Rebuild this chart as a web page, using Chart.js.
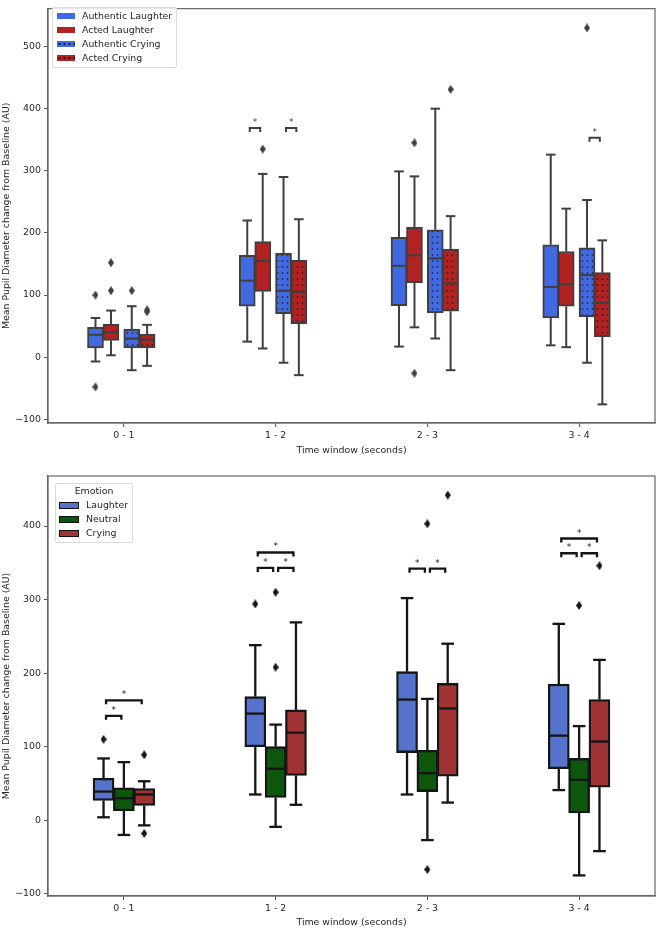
<!DOCTYPE html>
<html>
<head>
<meta charset="utf-8">
<script src="https://cdn.jsdelivr.net/npm/chart.js@4.4.1/dist/chart.umd.min.js"></script>
<style>
body { margin: 0; background: #fff; font-family: "DejaVu Sans", sans-serif; }
#wrap { position: relative; width: 660px; height: 930px; }
canvas { position: absolute; left: 0; }
.legend { position: absolute; background: rgba(255,255,255,0.85); border: 1px solid #dcdcdc; border-radius: 2px; font-size: 9.4px; color: #262626; }
.row { position: absolute; left: 0; height: 12px; line-height: 12px; white-space: nowrap; }
.sw { position: absolute; top: 3px; }
.txt { position: absolute; top: 0; }
.dots { background-image: radial-gradient(circle, #1a1a1a 0.9px, transparent 1.3px); background-size: 5px 6px; background-position: 0 0; }
</style>
</head>
<body>
<div id="wrap">
  <canvas id="topChart" width="660" height="465" style="top:0"></canvas>
  <canvas id="bottomChart" width="660" height="465" style="top:465px"></canvas>

  <div class="legend" style="left:52px; top:7px; width:123px; height:59px;">
    <div class="row" style="top:2px"><div class="sw" style="left:4px;width:18px;height:6px;background:#4169e1"></div><div class="txt" style="left:29px">Authentic Laughter</div></div>
    <div class="row" style="top:16px"><div class="sw" style="left:4px;width:18px;height:6px;background:#b22222"></div><div class="txt" style="left:29px">Acted Laughter</div></div>
    <div class="row" style="top:30px"><div class="sw dots" style="left:4px;width:18px;height:6px;background-color:#4169e1"></div><div class="txt" style="left:29px">Authentic Crying</div></div>
    <div class="row" style="top:44px"><div class="sw dots" style="left:4px;width:18px;height:6px;background-color:#b22222"></div><div class="txt" style="left:29px">Acted Crying</div></div>
  </div>

  <div class="legend" style="left:55px; top:483px; width:76px; height:58px;">
    <div class="row" style="top:1px; width:76px; text-align:center">Emotion</div>
    <div class="row" style="top:15px"><div class="sw" style="left:3px;width:18px;height:5px;background:#5573cd;border:1px solid #111"></div><div class="txt" style="left:30px">Laughter</div></div>
    <div class="row" style="top:29px"><div class="sw" style="left:3px;width:18px;height:5px;background:#0d570d;border:1px solid #111"></div><div class="txt" style="left:30px">Neutral</div></div>
    <div class="row" style="top:43px"><div class="sw" style="left:3px;width:18px;height:5px;background:#a03434;border:1px solid #111"></div><div class="txt" style="left:30px">Crying</div></div>
  </div>
</div>

<script>
const timeWindows = ['0 - 1', '1 - 2', '2 - 3', '3 - 4'];

// top chart: [low whisker, q1, median, q3, high whisker] per time window
const authenticLaughter = [[-7, 15, 36, 48, 63], [25, 82, 123, 164, 220], [17, 83, 147, 193, 299], [19, 63, 113, 181, 326]];
const actedLaughter     = [[3, 27, 40, 53, 75], [14, 106, 155, 186, 295], [48, 120, 164, 209, 291], [16, 82, 117, 170, 239]];
const authenticCrying   = [[-21, 15, 30, 45, 82], [-9, 70, 107, 167, 290], [30, 71, 159, 205, 400], [-9, 65, 132, 176, 253]];
const actedCrying       = [[-14, 15, 28, 37, 52], [-29, 54, 105, 156, 222], [-21, 74, 119, 174, 227], [-76, 33, 88, 136, 188]];
const authenticLaughterOut = [[100, -48], [], [], []];
const actedLaughterOut     = [[107, 152], [335], [345, -26], []];
const authenticCryingOut   = [[107], [], [], [530]];
const actedCryingOut       = [[73, 76], [], [431], []];
// significance brackets: [time window, box a, box b, height]
const topBrackets = [[1, 0, 1, 369], [1, 2, 3, 369], [3, 2, 3, 353]];

// bottom chart
const laughter = [[4, 27, 39, 57, 84], [35, 100, 145, 168, 238], [35, 92, 164, 202, 302], [41, 70, 115, 185, 267]];
const neutral  = [[-20, 13, 30, 44, 79], [-9, 31, 70, 100, 130], [-27, 39, 64, 95, 165], [-75, 10, 55, 84, 128]];
const crying   = [[-7, 20, 35, 43, 53], [21, 61, 119, 150, 269], [24, 60, 152, 186, 240], [-42, 45, 107, 164, 218]];
const laughterOut = [[110], [294], [], []];
const neutralOut  = [[], [310, 208], [403, -67], [292]];
const cryingOut   = [[89, -18], [], [442], [346]];
const bottomBrackets = [[0, 0, 1, 142], [0, 0, 2, 163], [1, 0, 1, 343], [1, 1, 2, 343], [1, 0, 2, 364],
                        [2, 0, 1, 342], [2, 1, 2, 342], [3, 0, 1, 363], [3, 1, 2, 363], [3, 0, 2, 383]];

Chart.defaults.font.family = 'DejaVu Sans';
Chart.defaults.font.size = 9.4;
Chart.defaults.color = '#262626';

function dotPattern(color) {
    const c = document.createElement('canvas');
    c.width = 5; c.height = 6;
    const g = c.getContext('2d');
    g.fillStyle = color;
    g.fillRect(0, 0, 5, 6);
    g.fillStyle = '#1f1f1f';
    g.beginPath();
    g.arc(2.5, 3, 0.85, 0, Math.PI * 2);
    g.fill();
    return g.createPattern(c, 'repeat');
}

function diamond(color) {
    const c = document.createElement('canvas');
    c.width = 6; c.height = 9;
    const g = c.getContext('2d');
    g.fillStyle = color;
    g.beginPath();
    g.moveTo(3, 0); g.lineTo(6, 4.5); g.lineTo(3, 9); g.lineTo(0, 4.5);
    g.closePath();
    g.fill();
    return c;
}

function fmt(v) {
    return v < 0 ? '\u2212' + Math.abs(v) : String(v);
}

function boxPlugin(series, offsets, boxW, lineColor, lineW, brackets) {
    return {
        id: 'boxParts',
        afterDatasetsDraw(chart) {
            const {ctx, chartArea} = chart;
            const xs = chart.scales.x, ys = chart.scales.y;
            const Y = v => ys.getPixelForValue(v);
            const seg = (x1, y1, x2, y2) => { ctx.beginPath(); ctx.moveTo(x1, y1); ctx.lineTo(x2, y2); ctx.stroke(); };
            ctx.save();
            ctx.strokeStyle = lineColor;
            ctx.lineWidth = lineW;
            series.forEach((s, i) => {
                s.forEach((q, j) => {
                    const cx = xs.getPixelForValue(j + offsets[i]);
                    const half = boxW / 2 - lineW / 2;
                    const cap = boxW * 0.3;
                    seg(cx, Y(q[3]), cx, Y(q[4]));
                    seg(cx - cap, Y(q[4]), cx + cap, Y(q[4]));
                    seg(cx, Y(q[1]), cx, Y(q[0]));
                    seg(cx - cap, Y(q[0]), cx + cap, Y(q[0]));
                    seg(cx - half, Y(q[2]), cx + half, Y(q[2]));
                });
            });
            // brackets with stars
            ctx.fillStyle = lineColor;
            ctx.font = '9px "DejaVu Sans"';
            ctx.textAlign = 'center';
            ctx.textBaseline = 'alphabetic';
            brackets.forEach(b => {
                const x1 = xs.getPixelForValue(b[0] + offsets[b[1]]) + 2.5;
                const x2 = xs.getPixelForValue(b[0] + offsets[b[2]]) - 2.5;
                const by = Y(b[3]);
                ctx.beginPath();
                ctx.moveTo(x1, by + 4); ctx.lineTo(x1, by); ctx.lineTo(x2, by); ctx.lineTo(x2, by + 4);
                ctx.stroke();
                ctx.fillText('*', (x1 + x2) / 2, by - 3);
            });
            // frame
            ctx.strokeStyle = '#666';
            ctx.lineWidth = 1.2;
            ctx.strokeRect(chartArea.left, chartArea.top, chartArea.right - chartArea.left, chartArea.bottom - chartArea.top);
            ctx.restore();
        }
    };
}

function buildChart(canvasId, cfg) {
    const datasets = [];
    cfg.series.forEach((s, i) => {
        datasets.push({
            type: 'bar',
            label: cfg.names[i],
            data: s.map((q, j) => ({x: j + cfg.offsets[i], y: [q[1], q[3]]})),
            backgroundColor: cfg.fills[i],
            borderColor: cfg.lineColor,
            borderWidth: cfg.lineW,
            borderSkipped: false,
            barThickness: cfg.boxW,
            grouped: false
        });
    });
    cfg.outliers.forEach((o, i) => {
        const pts = [];
        o.forEach((vals, j) => vals.forEach(v => pts.push({x: j + cfg.offsets[i], y: v})));
        datasets.push({
            type: 'scatter',
            label: cfg.names[i] + ' outliers',
            data: pts,
            pointStyle: diamond(cfg.lineColor),
            pointRadius: 4
        });
    });

    return new Chart(document.getElementById(canvasId), {
        type: 'bar',
        data: {datasets: datasets},
        options: {
            responsive: false,
            animation: false,
            layout: {padding: {left: 0, right: 2, top: cfg.padTop, bottom: 0}},
            plugins: {legend: {display: false}, tooltip: {enabled: false}},
            scales: {
                x: {
                    type: 'linear',
                    min: -0.5,
                    max: 3.5,
                    offset: false,
                    afterBuildTicks: s => { s.ticks = [0, 1, 2, 3].map(v => ({value: v})); },
                    afterFit: s => { s.height = cfg.xHeight; },
                    grid: {drawOnChartArea: false, offset: false, color: '#555', tickLength: 4},
                    border: {display: true, color: '#666', width: 1.2},
                    ticks: {callback: v => timeWindows[v], maxRotation: 0, padding: 3},
                    title: {display: true, text: 'Time window (seconds)', padding: {top: 0, bottom: cfg.titlePad}}
                },
                y: {
                    type: 'linear',
                    min: cfg.yMin,
                    max: cfg.yMax,
                    afterBuildTicks: s => { s.ticks = cfg.yTicks.map(v => ({value: v})); },
                    afterFit: s => { s.width = 48; },
                    grid: {drawOnChartArea: false, color: '#555', tickLength: 4},
                    border: {display: true, color: '#666', width: 1.2},
                    ticks: {callback: v => fmt(v), padding: 3},
                    title: {display: true, text: 'Mean Pupil Diameter change from Baseline (AU)', padding: {top: 1, bottom: 0}}
                }
            }
        },
        plugins: [boxPlugin(cfg.series, cfg.offsets, cfg.boxW, cfg.lineColor, cfg.lineW, cfg.brackets)]
    });
}

buildChart('topChart', {
    names: ['Authentic Laughter', 'Acted Laughter', 'Authentic Crying', 'Acted Crying'],
    series: [authenticLaughter, actedLaughter, authenticCrying, actedCrying],
    outliers: [authenticLaughterOut, actedLaughterOut, authenticCryingOut, actedCryingOut],
    offsets: [-0.187, -0.085, 0.052, 0.153],
    fills: ['#4169e1', '#b22222', dotPattern('#4169e1'), dotPattern('#b22222')],
    lineColor: '#3f3f3f',
    lineW: 2,
    boxW: 16,
    brackets: topBrackets,
    yMin: -106, yMax: 561,
    yTicks: [-100, 0, 100, 200, 300, 400, 500],
    padTop: 2,
    xHeight: 42,
    titlePad: 9
});

buildChart('bottomChart', {
    names: ['Laughter', 'Neutral', 'Crying'],
    series: [laughter, neutral, crying],
    outliers: [laughterOut, neutralOut, cryingOut],
    offsets: [-0.134, 0, 0.134],
    fills: ['#5573cd', '#0d570d', '#a03434'],
    lineColor: '#151515',
    lineW: 2.3,
    boxW: 21,
    brackets: bottomBrackets,
    yMin: -103, yMax: 468,
    yTicks: [-100, 0, 100, 200, 300, 400],
    padTop: 11,
    xHeight: 34,
    titlePad: 2
});
</script>
</body>
</html>
